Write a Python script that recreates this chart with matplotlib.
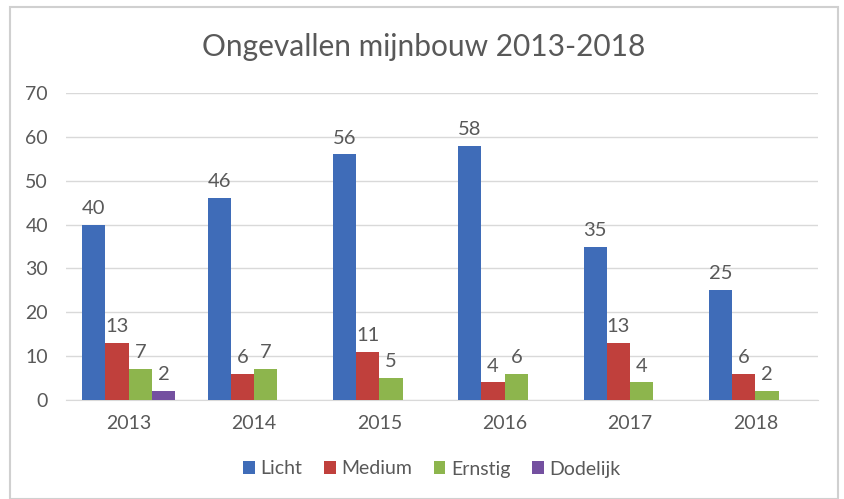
import numpy as np
import matplotlib.pyplot as plt
from matplotlib.patches import Rectangle

years = ["2013", "2014", "2015", "2016", "2017", "2018"]
series = ["Licht", "Medium", "Ernstig", "Dodelijk"]
licht = [40, 46, 56, 58, 35, 25]
medium = [13, 6, 11, 4, 13, 6]
ernstig = [7, 7, 5, 6, 4, 2]
dodelijk = [2, 0, 0, 0, 0, 0]
colors = ["#3f6cb8", "#c0403c", "#8db54d", "#7450a0"]

plt.rcParams["font.family"] = ["Lato", "DejaVu Sans"]
text_color = "#595959"

fig = plt.figure(figsize=(8.44, 4.99), dpi=100)
ax = fig.add_axes([66 / 844, 1 - 400 / 499, 752 / 844, 307 / 499])

# chart border
fig.patches.append(Rectangle((10 / 844, 0.0), 828 / 844, 1 - 7 / 499,
                             transform=fig.transFigure, fill=False,
                             edgecolor="#d0d0d0", linewidth=1.5))

x = np.arange(len(years))
width = 0.185
data = [licht, medium, ernstig, dodelijk]
for i, (name, vals) in enumerate(zip(series, data)):
    pos = x + (i - 1.5) * width
    bars = ax.bar(pos, vals, width, color=colors[i], label=name, zorder=3)
    for b, v in zip(bars, vals):
        if v > 0:
            ax.text(b.get_x() + b.get_width() / 2, v + 1.8, str(v),
                    ha="center", va="bottom", fontsize=14.5, color=text_color)

ax.set_xlim(-0.5, 5.5)
ax.set_ylim(0, 70)
ax.set_yticks(range(0, 71, 10))
ax.yaxis.grid(True, color="#d9d9d9", linewidth=1, zorder=0)
ax.set_xticks(x)
ax.set_xticklabels(years)
for s in ["top", "right", "left"]:
    ax.spines[s].set_visible(False)
ax.spines["bottom"].set_color("#d9d9d9")
ax.tick_params(axis="both", length=0, labelsize=14, colors=text_color)
ax.tick_params(axis="x", pad=11)
ax.tick_params(axis="y", pad=13)

fig.text(424 / 844, 1 - 47 / 499, "Ongevallen mijnbouw 2013-2018",
         ha="center", va="center", fontsize=21.5, color=text_color)

fig.legend(loc="center", bbox_to_anchor=(432 / 844, 1 - 469 / 499), ncol=4,
           frameon=False, fontsize=14, labelcolor=text_color,
           handlelength=0.6, handleheight=0.6, handletextpad=0.3,
           columnspacing=1.1)

fig.savefig("out.png", dpi=100)
